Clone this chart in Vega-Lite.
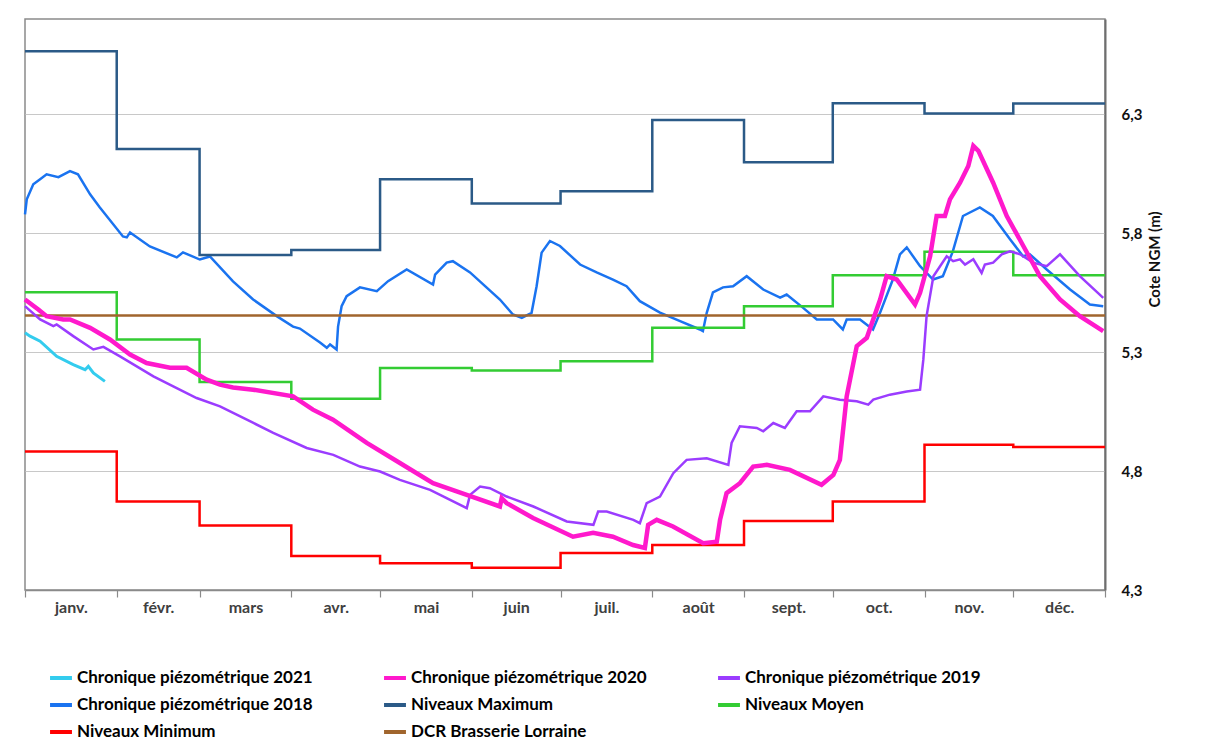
{
  "$schema": "https://vega.github.io/schema/vega-lite/v6.json",
  "width": 1080,
  "height": 571,
  "autosize": {"type": "none"},
  "padding": {"left": 25, "top": 19, "right": 100, "bottom": 150},
  "background": "white",
  "config": {"view": {"stroke": "#8a8a8a", "strokeWidth": 1.5}, "font": "Lato"},
  "datasets": {
    "curves": [
      {"s":"c2018","d":0,"v":5.879},{"s":"c2018","d":0.6,"v":5.942},{"s":"c2018","d":2.8,"v":6.005},{"s":"c2018","d":5.1,"v":6.026},{"s":"c2018","d":7.3,"v":6.047},{"s":"c2018","d":11.3,"v":6.035},{"s":"c2018","d":15.2,"v":6.061},{"s":"c2018","d":17.9,"v":6.047},{"s":"c2018","d":22.0,"v":5.963},{"s":"c2018","d":25.3,"v":5.908},{"s":"c2018","d":33.1,"v":5.786},{"s":"c2018","d":34.4,"v":5.782},{"s":"c2018","d":35.5,"v":5.803},{"s":"c2018","d":42.2,"v":5.744},{"s":"c2018","d":51.3,"v":5.698},{"s":"c2018","d":53.4,"v":5.719},{"s":"c2018","d":59.1,"v":5.689},{"s":"c2018","d":62.5,"v":5.702},{"s":"c2018","d":70.3,"v":5.597},{"s":"c2018","d":77.1,"v":5.521},{"s":"c2018","d":85.2,"v":5.450},{"s":"c2018","d":90.6,"v":5.407},{"s":"c2018","d":92.9,"v":5.399},{"s":"c2018","d":99.7,"v":5.340},{"s":"c2018","d":102.0,"v":5.318},{"s":"c2018","d":103.1,"v":5.332},{"s":"c2018","d":105.3,"v":5.311},{"s":"c2018","d":105.8,"v":5.407},{"s":"c2018","d":107.0,"v":5.493},{"s":"c2018","d":108.7,"v":5.535},{"s":"c2018","d":113.2,"v":5.572},{"s":"c2018","d":118.9,"v":5.556},{"s":"c2018","d":122.7,"v":5.598},{"s":"c2018","d":129.0,"v":5.647},{"s":"c2018","d":137.9,"v":5.584},{"s":"c2018","d":138.6,"v":5.626},{"s":"c2018","d":142.5,"v":5.676},{"s":"c2018","d":144.6,"v":5.682},{"s":"c2018","d":150.4,"v":5.635},{"s":"c2018","d":160.5,"v":5.521},{"s":"c2018","d":164.9,"v":5.458},{"s":"c2018","d":167.9,"v":5.444},{"s":"c2018","d":171.2,"v":5.465},{"s":"c2018","d":172.9,"v":5.577},{"s":"c2018","d":174.6,"v":5.718},{"s":"c2018","d":177.4,"v":5.767},{"s":"c2018","d":180.8,"v":5.746},{"s":"c2018","d":187.6,"v":5.668},{"s":"c2018","d":193.2,"v":5.635},{"s":"c2018","d":198.7,"v":5.605},{"s":"c2018","d":203.3,"v":5.577},{"s":"c2018","d":207.8,"v":5.514},{"s":"c2018","d":214.6,"v":5.466},{"s":"c2018","d":221.4,"v":5.430},{"s":"c2018","d":228.1,"v":5.395},{"s":"c2018","d":229.1,"v":5.388},{"s":"c2018","d":230.4,"v":5.465},{"s":"c2018","d":232.5,"v":5.551},{"s":"c2018","d":235.9,"v":5.572},{"s":"c2018","d":239.3,"v":5.577},{"s":"c2018","d":243.9,"v":5.619},{"s":"c2018","d":249.5,"v":5.563},{"s":"c2018","d":255.2,"v":5.529},{"s":"c2018","d":257.4,"v":5.542},{"s":"c2018","d":262.9,"v":5.487},{"s":"c2018","d":267.6,"v":5.437},{"s":"c2018","d":273.1,"v":5.437},{"s":"c2018","d":276.4,"v":5.395},{"s":"c2018","d":277.7,"v":5.437},{"s":"c2018","d":282.2,"v":5.437},{"s":"c2018","d":286.6,"v":5.395},{"s":"c2018","d":289.0,"v":5.466},{"s":"c2018","d":293.3,"v":5.605},{"s":"c2018","d":295.7,"v":5.711},{"s":"c2018","d":298.0,"v":5.740},{"s":"c2018","d":302.5,"v":5.661},{"s":"c2018","d":306.9,"v":5.605},{"s":"c2018","d":310.2,"v":5.619},{"s":"c2018","d":313.6,"v":5.724},{"s":"c2018","d":317.0,"v":5.872},{"s":"c2018","d":322.7,"v":5.908},{"s":"c2018","d":327.1,"v":5.872},{"s":"c2018","d":332.9,"v":5.774},{"s":"c2018","d":337.3,"v":5.703},{"s":"c2018","d":339.6,"v":5.711},{"s":"c2018","d":345.3,"v":5.647},{"s":"c2018","d":353.2,"v":5.563},{"s":"c2018","d":359.9,"v":5.500},{"s":"c2018","d":364.4,"v":5.493},

      {"s":"c2019","d":0,"v":5.493},{"s":"c2019","d":5.1,"v":5.437},{"s":"c2019","d":9.6,"v":5.409},{"s":"c2019","d":10.7,"v":5.416},{"s":"c2019","d":16.3,"v":5.367},{"s":"c2019","d":23.1,"v":5.311},{"s":"c2019","d":26.5,"v":5.322},{"s":"c2019","d":32.1,"v":5.282},{"s":"c2019","d":43.4,"v":5.198},{"s":"c2019","d":50.1,"v":5.156},{"s":"c2019","d":58.0,"v":5.107},{"s":"c2019","d":65.9,"v":5.072},{"s":"c2019","d":77.2,"v":5.002},{"s":"c2019","d":83.9,"v":4.960},{"s":"c2019","d":95.2,"v":4.897},{"s":"c2019","d":104.2,"v":4.868},{"s":"c2019","d":113.2,"v":4.819},{"s":"c2019","d":120.0,"v":4.798},{"s":"c2019","d":126.7,"v":4.763},{"s":"c2019","d":136.9,"v":4.721},{"s":"c2019","d":149.3,"v":4.644},{"s":"c2019","d":150.4,"v":4.700},{"s":"c2019","d":153.8,"v":4.735},{"s":"c2019","d":157.1,"v":4.728},{"s":"c2019","d":162.8,"v":4.693},{"s":"c2019","d":171.8,"v":4.651},{"s":"c2019","d":183.1,"v":4.588},{"s":"c2019","d":192.1,"v":4.574},{"s":"c2019","d":193.7,"v":4.630},{"s":"c2019","d":196.6,"v":4.630},{"s":"c2019","d":205.6,"v":4.595},{"s":"c2019","d":207.8,"v":4.581},{"s":"c2019","d":210.1,"v":4.665},{"s":"c2019","d":214.6,"v":4.693},{"s":"c2019","d":219.1,"v":4.791},{"s":"c2019","d":223.6,"v":4.847},{"s":"c2019","d":230.4,"v":4.854},{"s":"c2019","d":237.7,"v":4.826},{"s":"c2019","d":238.8,"v":4.918},{"s":"c2019","d":241.6,"v":4.988},{"s":"c2019","d":247.3,"v":4.981},{"s":"c2019","d":249.5,"v":4.967},{"s":"c2019","d":252.9,"v":5.002},{"s":"c2019","d":256.8,"v":4.981},{"s":"c2019","d":260.8,"v":5.051},{"s":"c2019","d":265.3,"v":5.051},{"s":"c2019","d":269.8,"v":5.114},{"s":"c2019","d":275.4,"v":5.100},{"s":"c2019","d":281.1,"v":5.093},{"s":"c2019","d":285.0,"v":5.079},{"s":"c2019","d":286.7,"v":5.100},{"s":"c2019","d":292.3,"v":5.121},{"s":"c2019","d":298.0,"v":5.134},{"s":"c2019","d":302.5,"v":5.142},{"s":"c2019","d":303.6,"v":5.268},{"s":"c2019","d":304.7,"v":5.451},{"s":"c2019","d":307.0,"v":5.619},{"s":"c2019","d":311.5,"v":5.703},{"s":"c2019","d":313.7,"v":5.682},{"s":"c2019","d":316.0,"v":5.690},{"s":"c2019","d":317.7,"v":5.668},{"s":"c2019","d":320.5,"v":5.690},{"s":"c2019","d":323.3,"v":5.633},{"s":"c2019","d":324.4,"v":5.668},{"s":"c2019","d":327.2,"v":5.676},{"s":"c2019","d":330.1,"v":5.711},{"s":"c2019","d":332.9,"v":5.724},{"s":"c2019","d":336.3,"v":5.711},{"s":"c2019","d":340.7,"v":5.676},{"s":"c2019","d":345.3,"v":5.661},{"s":"c2019","d":349.8,"v":5.711},{"s":"c2019","d":356.5,"v":5.619},{"s":"c2019","d":364.4,"v":5.528},

      {"s":"c2020","d":0,"v":5.521},{"s":"c2020","d":4.5,"v":5.479},{"s":"c2020","d":7.3,"v":5.451},{"s":"c2020","d":12.9,"v":5.437},{"s":"c2020","d":15.2,"v":5.437},{"s":"c2020","d":22.0,"v":5.402},{"s":"c2020","d":28.7,"v":5.353},{"s":"c2020","d":35.5,"v":5.290},{"s":"c2020","d":41.1,"v":5.254},{"s":"c2020","d":49.0,"v":5.234},{"s":"c2020","d":54.6,"v":5.234},{"s":"c2020","d":61.4,"v":5.184},{"s":"c2020","d":65.9,"v":5.163},{"s":"c2020","d":70.3,"v":5.151},{"s":"c2020","d":77.1,"v":5.142},{"s":"c2020","d":90.6,"v":5.114},{"s":"c2020","d":97.3,"v":5.058},{"s":"c2020","d":104.1,"v":5.016},{"s":"c2020","d":115.5,"v":4.918},{"s":"c2020","d":126.7,"v":4.834},{"s":"c2020","d":137.9,"v":4.749},{"s":"c2020","d":149.3,"v":4.700},{"s":"c2020","d":160.5,"v":4.651},{"s":"c2020","d":161.1,"v":4.686},{"s":"c2020","d":162.8,"v":4.665},{"s":"c2020","d":171.7,"v":4.603},{"s":"c2020","d":185.2,"v":4.524},{"s":"c2020","d":192.0,"v":4.540},{"s":"c2020","d":198.7,"v":4.524},{"s":"c2020","d":205.5,"v":4.489},{"s":"c2020","d":209.5,"v":4.477},{"s":"c2020","d":210.6,"v":4.574},{"s":"c2020","d":213.5,"v":4.595},{"s":"c2020","d":219.0,"v":4.567},{"s":"c2020","d":229.2,"v":4.497},{"s":"c2020","d":233.8,"v":4.503},{"s":"c2020","d":234.9,"v":4.595},{"s":"c2020","d":237.1,"v":4.707},{"s":"c2020","d":241.6,"v":4.749},{"s":"c2020","d":246.1,"v":4.819},{"s":"c2020","d":250.7,"v":4.826},{"s":"c2020","d":258.5,"v":4.805},{"s":"c2020","d":269.2,"v":4.742},{"s":"c2020","d":273.2,"v":4.784},{"s":"c2020","d":275.4,"v":4.847},{"s":"c2020","d":277.7,"v":5.114},{"s":"c2020","d":281.1,"v":5.325},{"s":"c2020","d":284.5,"v":5.360},{"s":"c2020","d":289.0,"v":5.521},{"s":"c2020","d":291.2,"v":5.619},{"s":"c2020","d":294.6,"v":5.605},{"s":"c2020","d":300.8,"v":5.500},{"s":"c2020","d":302.5,"v":5.549},{"s":"c2020","d":305.9,"v":5.703},{"s":"c2020","d":308.1,"v":5.872},{"s":"c2020","d":310.9,"v":5.872},{"s":"c2020","d":312.6,"v":5.942},{"s":"c2020","d":316.0,"v":6.012},{"s":"c2020","d":318.8,"v":6.082},{"s":"c2020","d":320.5,"v":6.167},{"s":"c2020","d":322.2,"v":6.146},{"s":"c2020","d":327.2,"v":6.012},{"s":"c2020","d":331.8,"v":5.872},{"s":"c2020","d":337.4,"v":5.746},{"s":"c2020","d":343.0,"v":5.619},{"s":"c2020","d":349.8,"v":5.521},{"s":"c2020","d":356.5,"v":5.451},{"s":"c2020","d":364.4,"v":5.388},

      {"s":"c2021","d":0,"v":5.381},{"s":"c2021","d":1.7,"v":5.367},{"s":"c2021","d":5.1,"v":5.346},{"s":"c2021","d":10.7,"v":5.282},{"s":"c2021","d":16.3,"v":5.247},{"s":"c2021","d":20.3,"v":5.226},{"s":"c2021","d":21.4,"v":5.240},{"s":"c2021","d":23.1,"v":5.212},{"s":"c2021","d":27.0,"v":5.177}
    ],
    "steps": [
      {"s":"max","d":0,"v":6.564},{"s":"max","d":31,"v":6.154},{"s":"max","d":59,"v":5.708},{"s":"max","d":90,"v":5.729},{"s":"max","d":120,"v":6.026},{"s":"max","d":151,"v":5.925},{"s":"max","d":181,"v":5.976},{"s":"max","d":212,"v":6.275},{"s":"max","d":243,"v":6.098},{"s":"max","d":273,"v":6.346},{"s":"max","d":304,"v":6.303},{"s":"max","d":334,"v":6.345},{"s":"max","d":365,"v":6.345},
      {"s":"moy","d":0,"v":5.552},{"s":"moy","d":31,"v":5.353},{"s":"moy","d":59,"v":5.174},{"s":"moy","d":90,"v":5.104},{"s":"moy","d":120,"v":5.233},{"s":"moy","d":151,"v":5.223},{"s":"moy","d":181,"v":5.261},{"s":"moy","d":212,"v":5.402},{"s":"moy","d":243,"v":5.493},{"s":"moy","d":273,"v":5.623},{"s":"moy","d":304,"v":5.722},{"s":"moy","d":334,"v":5.623},{"s":"moy","d":365,"v":5.623},
      {"s":"min","d":0,"v":4.882},{"s":"min","d":31,"v":4.672},{"s":"min","d":59,"v":4.571},{"s":"min","d":90,"v":4.443},{"s":"min","d":120,"v":4.412},{"s":"min","d":151,"v":4.394},{"s":"min","d":181,"v":4.455},{"s":"min","d":212,"v":4.489},{"s":"min","d":243,"v":4.590},{"s":"min","d":273,"v":4.672},{"s":"min","d":304,"v":4.911},{"s":"min","d":334,"v":4.901},{"s":"min","d":365,"v":4.901},
      {"s":"dcr","d":0,"v":5.454},{"s":"dcr","d":365,"v":5.454}
    ]
  },
  "encoding": {
    "x": {
      "field": "d", "type": "quantitative",
      "scale": {"domain": [0, 365], "nice": false, "zero": false},
      "axis": {
        "values": [0,15.5,31,45,59,74.5,90,105,120,135.5,151,166,181,196.5,212,227.5,243,258,273,288.5,304,319,334,349.5,365],
        "title": null, "grid": false,
        "domainColor": "#8a8a8a", "domainWidth": 1.5,
        "tickColor": "#8a8a8a", "tickSize": 7, "tickWidth": 1.2,
        "tickOpacity": {"condition": {"test": "indexof([0,31,59,90,120,151,181,212,243,273,304,334,365], datum.value) >= 0", "value": 1}, "value": 0},
        "labelExpr": "datum.value==15.5?'janv.':datum.value==45?'févr.':datum.value==74.5?'mars':datum.value==105?'avr.':datum.value==135.5?'mai':datum.value==166?'juin':datum.value==196.5?'juil.':datum.value==227.5?'août':datum.value==258?'sept.':datum.value==288.5?'oct.':datum.value==319?'nov.':datum.value==349.5?'déc.':''",
        "labelFont": "Lato", "labelFontWeight": "bold", "labelFontSize": 16, "labelColor": "#404040",
        "labelPadding": 2, "labelOverlap": false, "labelFlush": false
      }
    },
    "y": {
      "field": "v", "type": "quantitative",
      "scale": {"domain": [4.3, 6.7], "nice": false, "zero": false},
      "axis": {
        "orient": "right", "values": [4.3, 4.8, 5.3, 5.8, 6.3],
        "grid": true, "gridColor": "#c8c8c8", "gridWidth": 1.2,
        "ticks": false, "domainColor": "#6e6e6e", "domainWidth": 2,
        "labelExpr": "replace(format(datum.value,'.1f'),'.',',')",
        "labelFont": "Lato", "labelFontWeight": "bold", "labelFontSize": 15, "labelColor": "#111111",
        "labelPadding": 16, "labelFlush": false, "labelBaseline": "middle",
        "title": "Cote NGM (m)", "titleFont": "Lato", "titleFontSize": 15, "titleFontWeight": "bold",
        "titleColor": "#111111", "titleAngle": 270, "titleX": 49, "titleY": 240, "titleAlign": "center", "titleBaseline": "middle"
      }
    },
    "color": {
      "field": "s", "type": "nominal",
      "scale": {
        "domain": ["c2021","c2020","c2019","c2018","max","moy","min","dcr"],
        "range": ["#33CCEE","#FF19CC","#9B3CFF","#1A73F0","#2B5A87","#33CC33","#FF0000","#A0652D"]
      },
      "legend": {
        "orient": "none", "legendX": 23, "legendY": 646, "direction": "horizontal", "columns": 3,
        "title": null, "symbolType": "stroke", "symbolStrokeWidth": 4, "symbolSize": 480,
        "labelFont": "Lato", "labelFontWeight": "bold", "labelFontSize": 17, "labelColor": "#000000",
        "columnPadding": 63, "rowPadding": 6, "labelOffset": 3, "labelLimit": 400, "padding": 0,
        "labelExpr": "datum.value=='c2021'?'Chronique piézométrique 2021':datum.value=='c2020'?'Chronique piézométrique 2020':datum.value=='c2019'?'Chronique piézométrique 2019':datum.value=='c2018'?'Chronique piézométrique 2018':datum.value=='max'?'Niveaux Maximum':datum.value=='moy'?'Niveaux Moyen':datum.value=='min'?'Niveaux Minimum':'DCR Brasserie Lorraine'"
      }
    }
  },
  "layer": [
    {"data": {"name": "curves"}, "transform": [{"filter": "datum.s == 'c2018'"}], "mark": {"type": "line", "strokeWidth": 2.5}, "encoding": {}},
    {"data": {"name": "steps"}, "mark": {"type": "line", "strokeWidth": 2.5, "interpolate": "step-after"}, "encoding": {}},
    {"data": {"name": "curves"}, "transform": [{"filter": "datum.s == 'c2019'"}], "mark": {"type": "line", "strokeWidth": 2.5}, "encoding": {}},
    {"data": {"name": "curves"}, "transform": [{"filter": "datum.s == 'c2020'"}], "mark": {"type": "line", "strokeWidth": 4.5}, "encoding": {}},
    {"data": {"name": "curves"}, "transform": [{"filter": "datum.s == 'c2021'"}], "mark": {"type": "line", "strokeWidth": 3}, "encoding": {}}
  ]
}
